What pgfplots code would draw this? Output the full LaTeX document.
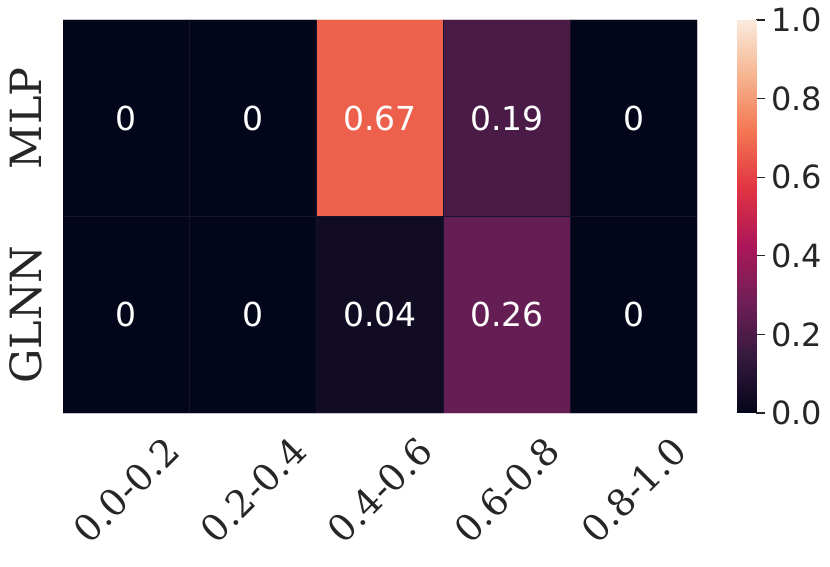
\documentclass[border=0pt]{standalone}
\usepackage{fontspec}
\setmainfont{DejaVu Sans}
\newfontfamily\serifdv{DejaVu Serif}
\usepackage{pgfplots}
\pgfplotsset{compat=1.18}

\definecolor{labelgrey}{HTML}{262626}
\definecolor{cellline}{RGB}{22,20,42}

\pgfplotsset{
  colormap={rocket}{
    rgb255=(3,5,26) rgb255=(53,25,62) rgb255=(112,31,87) rgb255=(173,23,89)
    rgb255=(225,51,66) rgb255=(243,118,81) rgb255=(246,180,143) rgb255=(250,235,221)
  }
}

\begin{document}
\begin{tikzpicture}
\path[use as bounding box] (0,0) rectangle (830pt,567pt);
% heatmap
\begin{axis}[
  at={(63pt,154pt)}, anchor=south west,
  scale only axis, width=634pt, height=393pt,
  xmin=-0.5, xmax=4.5, ymin=-0.5, ymax=1.5,
  y dir=reverse, enlargelimits=false,
  axis line style={draw=none},
  major tick length=0pt,
  xtick={0,1,2,3,4},
  xticklabels={0.0-0.2,0.2-0.4,0.4-0.6,0.6-0.8,0.8-1.0},
  ytick={0,1},
  yticklabels={MLP,GLNN},
  xticklabel style={rotate=45, anchor=center, inner sep=0pt,
    font=\serifdv\fontsize{37}{44}\selectfont, text=labelgrey},
  xticklabel shift=77pt,
  yticklabel style={rotate=90, anchor=south, inner sep=0pt,
    font=\serifdv\fontsize{43}{50}\selectfont, text=labelgrey},
  yticklabel shift=21pt,
  extra x ticks={0.5,1.5,2.5,3.5},
  extra x tick labels={},
  extra y ticks={0.5},
  extra y tick labels={},
  extra tick style={grid=major, major grid style={cellline, line width=0.8pt}},
  axis on top,
  colormap name=rocket,
  point meta min=0, point meta max=1,
]
\addplot[matrix plot*, mesh/cols=5, point meta=explicit] table[meta=c] {
x y c
0 0 0
1 0 0
2 0 0.67
3 0 0.19
4 0 0
0 1 0
1 1 0
2 1 0.04
3 1 0.26
4 1 0
};
\addplot[only marks, mark=none, point meta=explicit,
  nodes near coords={\pgfmathprintnumber[fixed,precision=2,assume math mode=true]{\pgfplotspointmeta}},
  every node near coord/.style={anchor=center, text=white, inner sep=0pt,
    font=\fontsize{33}{40}\selectfont}] table[meta=c] {
x y c
0 0 0
1 0 0
2 0 0.67
3 0 0.19
4 0 0
0 1 0
1 1 0
2 1 0.04
3 1 0.26
4 1 0
};
\end{axis}
% colour bar
\begin{axis}[
  at={(737pt,154pt)}, anchor=south west,
  scale only axis, width=19pt, height=393pt,
  xmin=0, xmax=1, ymin=0, ymax=1,
  enlargelimits=false,
  axis line style={draw=none},
  xtick=\empty,
  ytick={0,0.2,0.4,0.6,0.8,1},
  ytick pos=right, yticklabel pos=right,
  tick align=outside,
  major tick length=9pt,
  ytick style={draw=labelgrey, line width=1.2pt},
  yticklabel style={anchor=west, inner sep=0pt, text=labelgrey,
    font=\fontsize{32}{38}\selectfont,
    /pgf/number format/.cd, fixed, fixed zerofill, precision=1,
    assume math mode=true},
  yticklabel shift=6pt,
  colormap name=rocket,
  point meta min=0, point meta max=1,
]
\addplot[surf, shader=interp, mesh/cols=2, point meta=y] table {
x y
0 0
1 0
0 0.142857
1 0.142857
0 0.285714
1 0.285714
0 0.428571
1 0.428571
0 0.571429
1 0.571429
0 0.714286
1 0.714286
0 0.857143
1 0.857143
0 1
1 1
};
\end{axis}
\end{tikzpicture}
\end{document}
